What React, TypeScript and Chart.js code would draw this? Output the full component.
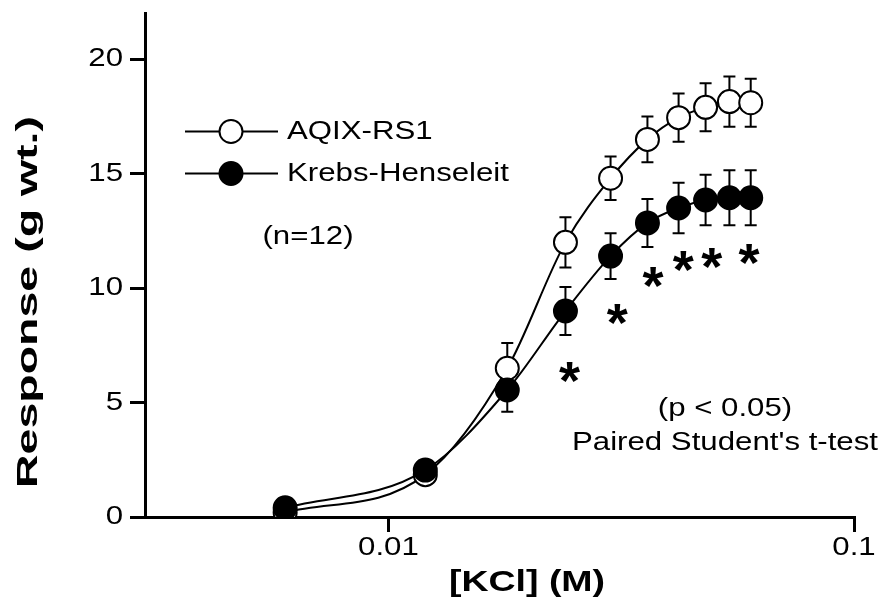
import React, { useEffect, useRef } from "react";
import { Chart, registerables } from "chart.js";

Chart.register(...registerables);

// ---- data ----
const concentrations = [0.006, 0.012, 0.018, 0.024, 0.03, 0.036, 0.042, 0.048, 0.054, 0.06];
const aqixMean = [0.2, 1.85, 6.5, 12.0, 14.8, 16.5, 17.45, 17.9, 18.15, 18.1];
const aqixErr = [0.1, 0.2, 1.1, 1.1, 0.95, 1.0, 1.05, 1.05, 1.1, 1.05];
const krebsMean = [0.4, 2.05, 5.55, 9.0, 11.4, 12.85, 13.5, 13.85, 13.95, 13.95];
const krebsErr = [0.1, 0.3, 0.95, 1.05, 1.0, 1.05, 1.1, 1.1, 1.2, 1.2];
const seriesNames = ["AQIX-RS1", "Krebs-Henseleit"];
const starX = [0.0245, 0.031, 0.037, 0.043, 0.0495, 0.0595];
const starY = [6.3, 8.85, 10.45, 11.15, 11.3, 11.45];
const yTicks = [0, 5, 10, 15, 20];
const yTickLabels = ["0", "5", "10", "15", "20"];
const xTicks = [0.01, 0.1];
const xTickLabels = ["0.01", "0.1"];
const xTitle = "[KCl] (M)";
const yTitle = "Response (g wt.)";
const nNote = "(n=12)";
const pNote = ["(p < 0.05)", "Paired Student's t-test"];

const FONT = "'Liberation Sans', Arial, Helvetica, sans-serif";
const TEXT_FONT = `26px ${FONT}`;
const STRETCH = 1.2;

function drawText(
  ctx: CanvasRenderingContext2D,
  text: string,
  x: number,
  y: number,
  font: string,
  align: CanvasTextAlign,
  sx = STRETCH,
  rotate = 0
) {
  ctx.save();
  ctx.translate(x, y);
  if (rotate) ctx.rotate(rotate);
  ctx.scale(sx, 1);
  ctx.font = font;
  ctx.fillStyle = "#000";
  ctx.textAlign = align;
  ctx.textBaseline = "middle";
  ctx.fillText(text, 0, 0);
  ctx.restore();
}

const errorBarPlugin = {
  id: "errorBars",
  beforeDatasetsDraw(chart: any) {
    const ctx = chart.ctx;
    const xs = chart.scales.x;
    const ys = chart.scales.y;
    const sets = [
      [aqixMean, aqixErr],
      [krebsMean, krebsErr],
    ];
    ctx.save();
    ctx.strokeStyle = "#000";
    ctx.lineWidth = 2;
    sets.forEach(([m, e]) => {
      concentrations.forEach((c, i) => {
        const px = xs.getPixelForValue(c);
        const top = ys.getPixelForValue(m[i] + e[i]);
        const bot = ys.getPixelForValue(m[i] - e[i]);
        ctx.beginPath();
        ctx.moveTo(px, top);
        ctx.lineTo(px, bot);
        ctx.moveTo(px - 6, top);
        ctx.lineTo(px + 6, top);
        ctx.moveTo(px - 6, bot);
        ctx.lineTo(px + 6, bot);
        ctx.stroke();
      });
    });
    ctx.restore();
  },
};

const annotationPlugin = {
  id: "annotations",
  afterDraw(chart: any) {
    const ctx = chart.ctx;
    const xs = chart.scales.x;
    const ys = chart.scales.y;
    // tick labels
    ys.ticks.forEach((t: any, i: number) => {
      drawText(ctx, yTickLabels[i], 123, ys.getPixelForValue(t.value), TEXT_FONT, "right");
    });
    xs.ticks.forEach((t: any, i: number) => {
      drawText(ctx, xTickLabels[i], xs.getPixelForValue(t.value), 548, TEXT_FONT, "center");
    });
    // asterisks
    starX.forEach((sx, i) => {
      const px = xs.getPixelForValue(sx);
      const py = ys.getPixelForValue(starY[i]);
      ctx.save();
      ctx.font = `bold 54px ${FONT}`;
      const m = ctx.measureText("*");
      ctx.fillStyle = "#000";
      ctx.textAlign = "center";
      ctx.textBaseline = "alphabetic";
      const off = (m.actualBoundingBoxAscent - m.actualBoundingBoxDescent) / 2;
      ctx.fillText("*", px, py + off);
      ctx.restore();
    });
    // legend
    const rows = [
      { y: 131.5, fill: "#fff", name: seriesNames[0] },
      { y: 173.5, fill: "#000", name: seriesNames[1] },
    ];
    rows.forEach((r) => {
      ctx.save();
      ctx.strokeStyle = "#000";
      ctx.lineWidth = 2;
      ctx.beginPath();
      ctx.moveTo(185, r.y);
      ctx.lineTo(278, r.y);
      ctx.stroke();
      ctx.beginPath();
      ctx.arc(231, r.y, 11.5, 0, Math.PI * 2);
      ctx.fillStyle = r.fill;
      ctx.fill();
      ctx.lineWidth = 2;
      ctx.stroke();
      ctx.restore();
      drawText(ctx, r.name, 287, r.y, TEXT_FONT, "left");
    });
    drawText(ctx, nNote, 308, 237, TEXT_FONT, "center");
    drawText(ctx, pNote[0], 725, 409, TEXT_FONT, "center");
    drawText(ctx, pNote[1], 725, 443, TEXT_FONT, "center");
    // axis titles
    drawText(ctx, xTitle, 527, 583, `bold 30px ${FONT}`, "center", 1.25);
    drawText(ctx, yTitle, 29, 302, `bold 30px ${FONT}`, "center", 1.55, -Math.PI / 2);
  },
};

export default function App() {
  const ref = useRef<HTMLCanvasElement | null>(null);
  useEffect(() => {
    if (!ref.current) return;
    const gridOpts = {
      display: true,
      drawOnChartArea: false,
      drawTicks: true,
      tickLength: 15,
      color: "#000",
      lineWidth: 3,
    };
    const chart = new Chart(ref.current, {
      type: "line",
      data: {
        datasets: [
          {
            label: seriesNames[0],
            data: concentrations.map((c, i) => ({ x: c, y: aqixMean[i] })),
            borderColor: "#000",
            borderWidth: 2,
            pointRadius: 11.5,
            pointBorderWidth: 2,
            pointBackgroundColor: "#fff",
            pointBorderColor: "#000",
            cubicInterpolationMode: "monotone",
            order: 1,
          },
          {
            label: seriesNames[1],
            data: concentrations.map((c, i) => ({ x: c, y: krebsMean[i] })),
            borderColor: "#000",
            borderWidth: 2,
            pointRadius: 11.5,
            pointBorderWidth: 2,
            pointBackgroundColor: "#000",
            pointBorderColor: "#000",
            cubicInterpolationMode: "monotone",
            order: 0,
          },
        ],
      },
      options: {
        responsive: false,
        animation: false,
        devicePixelRatio: 1,
        layout: { padding: { top: 8, right: 28, left: 0, bottom: 0 } },
        plugins: { legend: { display: false }, tooltip: { enabled: false } },
        scales: {
          x: {
            type: "logarithmic",
            min: 0.003,
            max: 0.1,
            afterFit: (s: any) => {
              s.height = 93;
            },
            afterBuildTicks: (s: any) => {
              s.ticks = xTicks.map((v) => ({ value: v }));
            },
            grid: gridOpts,
            border: { display: true, color: "#000", width: 3 },
            ticks: { display: false },
          },
          y: {
            type: "linear",
            min: 0,
            max: 22,
            afterFit: (s: any) => {
              s.width = 145;
            },
            afterBuildTicks: (s: any) => {
              s.ticks = yTicks.map((v) => ({ value: v }));
            },
            grid: gridOpts,
            border: { display: true, color: "#000", width: 3 },
            ticks: { display: false },
          },
        },
      },
      plugins: [errorBarPlugin, annotationPlugin],
    });
    return () => chart.destroy();
  }, []);
  return (
    <div style={{ position: "fixed", left: 0, top: 0, width: 882, height: 610, background: "#fff" }}>
      <canvas ref={ref} width={882} height={610} style={{ display: "block" }} />
    </div>
  );
}
